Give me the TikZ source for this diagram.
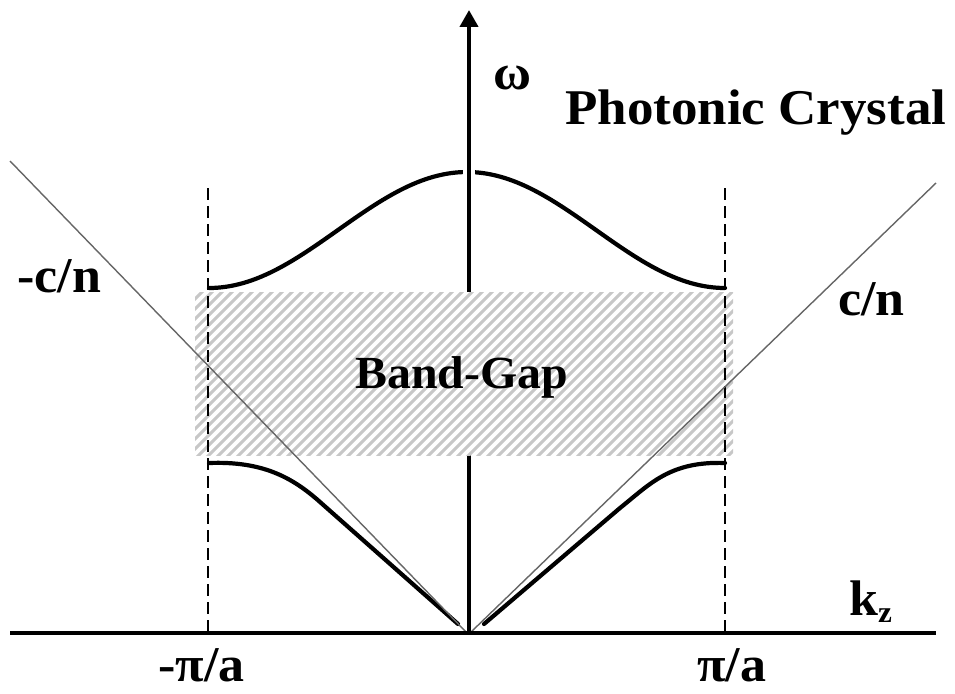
\documentclass[tikz,border=0pt]{standalone}
\usepackage{fontspec}
\setmainfont{Liberation Serif}[FakeStretch=1.04]
\newfontfamily\titlefont{Liberation Serif}[FakeStretch=1.06]
\usetikzlibrary{arrows.meta}
\tikzset{
  lbl/.style={font=\fontsize{50}{55}\selectfont\bfseries, inner sep=0pt, anchor=base west},
  axis/.style={line width=4pt, black},
  band/.style={line width=4.2pt, black, line cap=round},
  light/.style={line width=1.4pt, black!60},
  zoneedge/.style={line width=1.3pt, black, dash pattern=on 12pt off 6pt},
  hatch/.style={line width=3pt, black!22}
}
\begin{document}
\begin{tikzpicture}[x=1pt,y=-1pt]
\useasboundingbox (0,0) rectangle (955,693);
% coordinates
\coordinate (O) at (469,633);
\coordinate (Otop) at (469,10);
\coordinate (Xl) at (10,633);
\coordinate (Xr) at (936,633);
\coordinate (Ll) at (10,161);
\coordinate (Lle) at (466,632);
\coordinate (Lr) at (936,183);
\coordinate (Lre) at (471,632);
\coordinate (Dlt) at (208,188);
\coordinate (Dlb) at (208,633);
\coordinate (Drt) at (725,188);
\coordinate (Drb) at (725,633);
% upper band
\draw[band] plot[domain=209:725, samples=120] (\x, {230-58*cos(0.697674*(\x-467))});
% lower bands
\draw[band] (209,463) .. controls (262,461) and (292,477) .. (320,502) -- (458,624);
\draw[band] (725,463) .. controls (670,461) and (650,484) .. (620,508) -- (484,624);
% vertical axis
\draw[axis, preaction={draw=white, line width=12pt, shorten >=20pt}, -{Triangle[width=18pt,length=17pt]}] (O) -- (Otop);
% band gap hatch
\begin{scope}
  \clip (195,292) rectangle (733,455);
  \fill[white] (195,292) rectangle (733,455);
  \foreach \i in {0,...,72} {
    \draw[hatch] ({24+10*\i},460) -- ++(175,-175);
  }
\end{scope}
% zone edges
\draw[zoneedge] (Dlt) -- (Dlb);
\draw[zoneedge] (Drt) -- (Drb);
% light lines
\draw[light] (Ll) -- (Lle);
\draw[light] (Lr) -- (Lre);
% horizontal axis
\draw[axis] (Xl) -- (Xr);
% labels
\node[lbl] (omega) at (493,89) {ω};
\node[lbl, font=\fontsize{50}{55}\selectfont\bfseries\titlefont] (title) at (565,124) {Photonic Crystal};
\node[lbl] (mcn) at (17,292) {-c/n};
\node[lbl] (pcn) at (838,315) {c/n};
\node[lbl, font=\fontsize{46}{50}\selectfont\bfseries] (bg) at (355,388) {Band-Gap};
\node[lbl] (kz) at (849,615) {k\raisebox{-7pt}{\fontsize{30}{30}\selectfont z}};
\node[lbl] (mpa) at (158,681) {-π/a};
\node[lbl] (ppa) at (697,681) {π/a};
\end{tikzpicture}
\end{document}
